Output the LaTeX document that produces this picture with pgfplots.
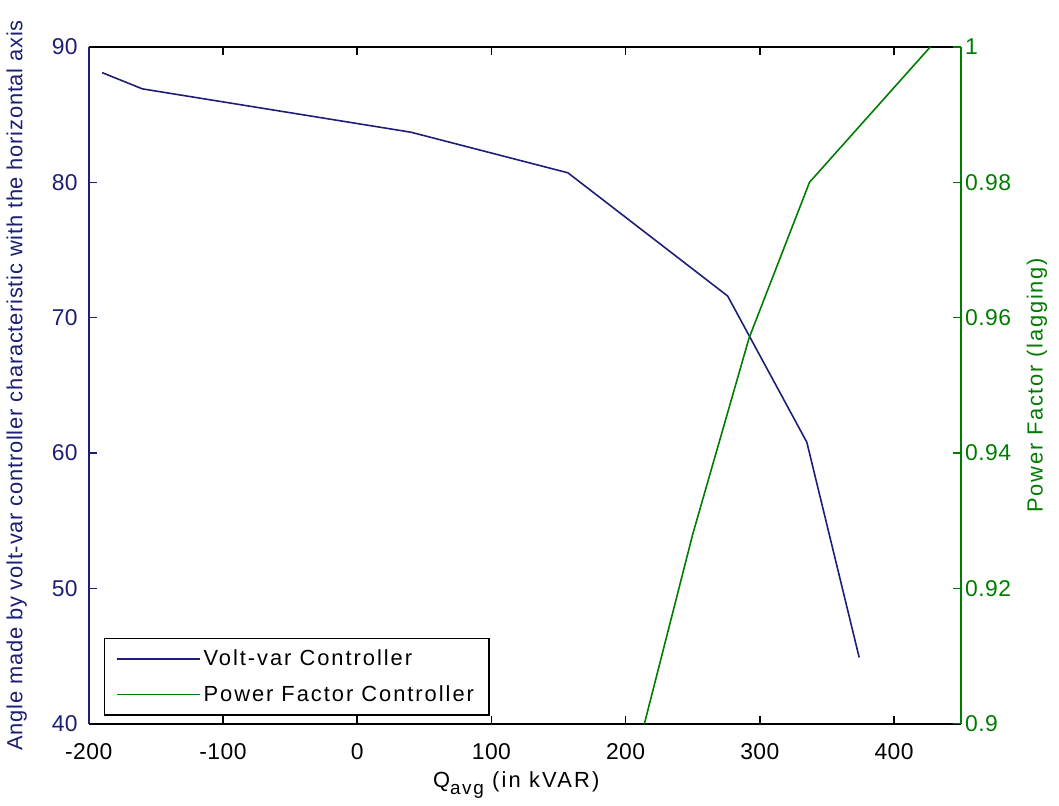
\documentclass[border=0pt]{standalone}
\usepackage{fontspec}
\setmainfont{Liberation Sans}
\usepackage{pgfplots}
\pgfplotsset{compat=1.18}
\definecolor{vvblue}{RGB}{30,30,120}
\definecolor{pfgreen}{RGB}{0,125,0}

% screen-rendered MATLAB text is wider than Arial, hence the letter spacing
\newcommand{\tickfont}{\fontsize{11.5}{13}\selectfont\addfontfeatures{LetterSpace=2}}
\newcommand{\wideFont}{\fontsize{11}{13}\selectfont\addfontfeatures{LetterSpace=8}}

\pgfplotsset{
  pair/.style={
    width=437bp, height=339bp, scale only axis,
    xmin=-200, xmax=450,
    tick align=inside,
    major tick length=4bp,
    /pgf/number format/assume math mode=true,
    tick label style={font=\tickfont},
  },
}

\begin{document}
\begin{tikzpicture}
\begin{axis}[pair, name=main,
  ymin=40, ymax=90, ytick={40,50,60,70,80,90},
  xtick={-200,-100,0,100,200,300,400},
  axis y line*=left,
  x axis line style={black, line width=0.9bp},
  y axis line style={vvblue, line width=0.9bp},
  xtick style={black, line width=0.7bp},
  ytick style={vvblue, line width=0.7bp},
  xticklabel style={black, yshift=-6.5bp},
  yticklabel style={vvblue, xshift=-2bp},
  xlabel={Q\raisebox{-0.6ex}{\fontsize{9.5}{10}\selectfont\addfontfeatures{LetterSpace=9}avg} (in kVAR)},
  xlabel style={font=\fontsize{11}{13}\selectfont\addfontfeatures{LetterSpace=10},
    at={(axis description cs:0.49,0)}, anchor=base, yshift=-32bp},
  ylabel={Angle made by volt-var controller characteristic with the horizontal axis},
  ylabel style={vvblue, font=\fontsize{11}{13}\selectfont\addfontfeatures{LetterSpace=3.5},
    at={(axis description cs:-0.0824,0.5)}, anchor=center},
]
\addplot[vvblue, line width=0.8bp] coordinates {
  (-190,88.1) (-160,86.9) (40,83.7) (157,80.7) (276,71.6) (335,60.8) (374,44.9)
};
\end{axis}
\begin{axis}[pair,
  ymin=0.9, ymax=1, ytick={0.9,0.92,0.94,0.96,0.98,1},
  axis y line*=right, axis x line=none,
  y axis line style={pfgreen, line width=0.9bp},
  ytick style={pfgreen, line width=0.7bp},
  yticklabel style={pfgreen, xshift=-1.5bp, /pgf/number format/fixed, /pgf/number format/precision=2},
  ylabel={Power Factor (lagging)},
  ylabel style={pfgreen, font=\wideFont, at={(axis description cs:1.087,0.5)}, anchor=center},
  legend cell align=left,
  legend image code/.code={\draw[#1] (0bp,0bp) -- (41.5bp,0bp);},
  legend style={at={(rel axis cs:0.017,0.012)}, anchor=south west,
    draw=black, line width=0.6bp, inner xsep=6bp, inner ysep=1.5bp, row sep=0.5bp,
    font=\fontsize{11}{13}\selectfont\addfontfeatures{LetterSpace=9},
    nodes={inner ysep=4bp, inner xsep=1.5bp}},
]
\addlegendimage{vvblue, line width=0.8bp}
\addlegendentry{Volt-var Controller}
\addplot[pfgreen, line width=0.8bp] coordinates {
  (214,0.9) (250,0.928) (292,0.957) (337,0.98) (427,1.0)
};
\addlegendentry{Power Factor Controller}
\end{axis}
\path ([shift={(-43.5bp,-38.5bp)}]main.south west) rectangle ([shift={(49bp,23.5bp)}]main.north east);
\end{tikzpicture}
\end{document}
